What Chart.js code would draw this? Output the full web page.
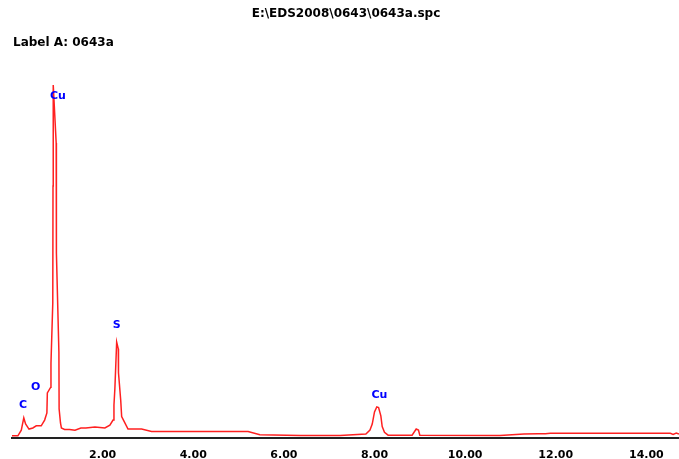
<!DOCTYPE html>
<html>
<head>
<meta charset="utf-8">
<script src="https://cdn.jsdelivr.net/npm/chart.js@4/dist/chart.umd.min.js"></script>
<style>
    html, body { margin: 0; padding: 0; background: #fff; }
    #wrap { width: 679px; height: 459px; }
</style>
</head>
<body>
<div id="wrap"><canvas id="spectrum"></canvas></div>
<script>
// spectrum: energy (keV) and counts
const energies = [0.00, 0.13, 0.205, 0.26, 0.30, 0.375, 0.46, 0.535, 0.645, 0.72, 0.77, 0.78, 0.855, 0.86, 0.90, 0.905, 0.91, 0.975, 0.98, 1.035, 1.04, 1.07, 1.09, 1.16, 1.27, 1.39, 1.52, 1.63, 1.83, 2.05, 2.16, 2.23, 2.25, 2.27, 2.31, 2.345, 2.35, 2.40, 2.42, 2.46, 2.56, 2.86, 3.08, 3.60, 4.08, 4.96, 5.21, 5.47, 6.36, 7.24, 7.81, 7.90, 7.95, 8.00, 8.05, 8.09, 8.14, 8.17, 8.22, 8.30, 8.83, 8.92, 8.97, 9.00, 10.77, 11.30, 11.61, 11.77, 11.88, 12.98, 14.53, 14.59, 14.66, 14.72];
const counts   = [6, 6, 22, 56, 39, 25, 28, 34, 34, 50, 70, 126, 142, 209, 377, 704, 986, 824, 517, 240, 81, 42, 28, 24, 24, 22, 28, 28, 31, 28, 36, 50, 92, 137, 268, 249, 182, 104, 60, 50, 25, 25, 18, 18, 18, 18, 18, 9, 7, 7, 11, 22, 39, 73, 87, 85, 62, 32, 16, 8, 8, 25, 22, 8, 7, 11, 12, 12, 13, 13, 13, 10, 14, 11];

// element labels and where they sit
const peakNames    = ["C", "O", "Cu", "S", "Cu"];
const peakLabelKeV = [0.243, 0.523, 1.015, 2.31, 8.11];
const peakLabelCts = [92, 142, 955, 316, 120];

const xTicks = [0, 2, 4, 6, 8, 10, 12, 14];

const chartTitle = "E:\\EDS2008\\0643\\0643a.spc";
const sampleLabel = "Label A: 0643a";

const points = energies.map((e, i) => ({ x: e, y: counts[i] }));

const textPlugin = {
    id: "spcText",
    afterDraw(chart) {
        const ctx = chart.ctx;
        const xs = chart.scales.x;
        const ys = chart.scales.y;
        ctx.save();
        ctx.fillStyle = "#000";
        ctx.textBaseline = "middle";
        ctx.font = "bold 12px 'DejaVu Sans'";
        ctx.textAlign = "center";
        ctx.fillText(chartTitle, 346, 14);
        ctx.textAlign = "left";
        ctx.fillText(sampleLabel, 13, 43);

        ctx.fillStyle = "#0000ff";
        ctx.font = "bold 11px 'DejaVu Sans'";
        ctx.textAlign = "center";
        peakNames.forEach((name, i) => {
            ctx.fillText(name, xs.getPixelForValue(peakLabelKeV[i]), ys.getPixelForValue(peakLabelCts[i]));
        });
        ctx.restore();
    }
};

new Chart(document.getElementById("spectrum"), {
    type: "line",
    data: {
        datasets: [
            {
                label: "0643a",
                data: points,
                borderColor: "#ff2020",
                borderWidth: 1.5,
                pointRadius: 0,
                tension: 0,
                fill: false,
            },
        ],
    },
    options: {
        responsive: true,
        maintainAspectRatio: false,
        animation: false,
        layout: { padding: { left: 12, right: 0, top: 80, bottom: 0 } },
        plugins: {
            legend: { display: false },
            title: { display: false },
            tooltip: { enabled: false },
        },
        scales: {
            x: {
                type: "linear",
                min: 0,
                max: 14.72,
                afterBuildTicks: (axis) => {
                    axis.ticks = xTicks.map((v) => ({ value: v }));
                },
                afterFit: (axis) => {
                    axis.height = 21;
                },
                ticks: {
                    color: "#000",
                    font: { family: "DejaVu Sans", size: 11, weight: "bold" },
                    padding: 11,
                    maxRotation: 0,
                    callback: (v) => (v === 0 ? "" : Number(v).toFixed(2)),
                },
                grid: { display: true, drawOnChartArea: false, drawTicks: false },
                border: { display: true, color: "#222", width: 2 },
            },
            y: {
                display: false,
                min: 0,
                max: 1000,
            },
        },
    },
    plugins: [textPlugin],
});
</script>
</body>
</html>
